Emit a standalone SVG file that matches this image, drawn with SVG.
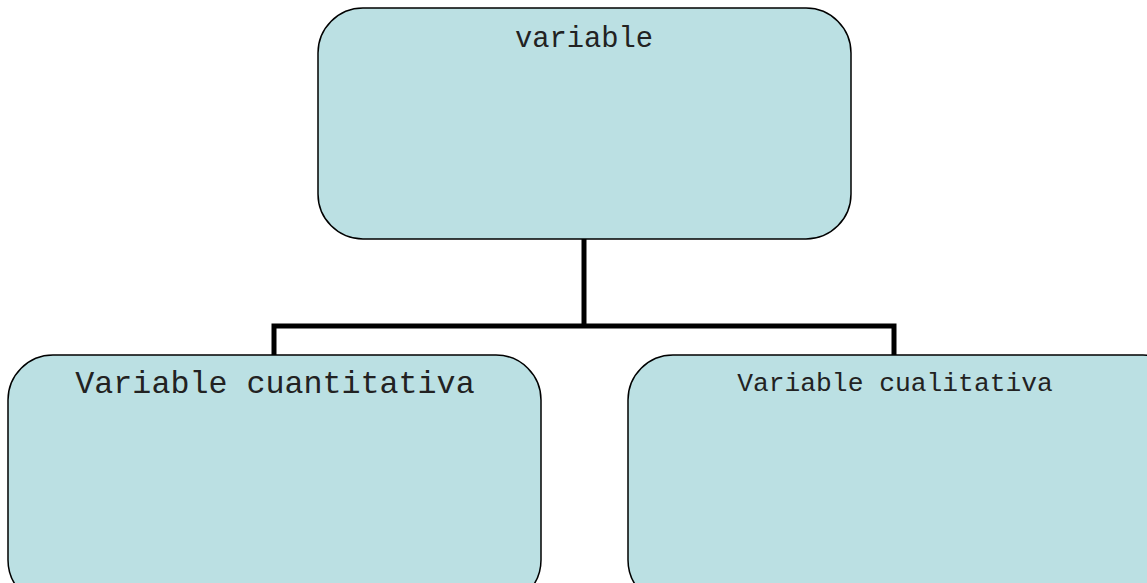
<svg xmlns="http://www.w3.org/2000/svg" width="1147" height="583" viewBox="0 0 1147 583">
  <style>
    .box { fill: #bbe0e3; stroke: #000; stroke-width: 1.5; }
    .lbl { font-family: "Courier New", "Nimbus Mono PS", "Liberation Mono", monospace; fill: #222; text-anchor: middle; }
    .wire { fill: none; stroke: #000; stroke-width: 5; stroke-linejoin: miter; }
  </style>
  <rect width="1147" height="583" fill="#fff"/>

  <!-- tree connectors -->
  <g id="connectors">
    <path class="wire" d="M584,239 V326"/>
    <path class="wire" d="M274,355 V326 H894 V355"/>
  </g>

  <g id="node-variable">
    <rect class="box" x="318" y="8" width="533" height="231" rx="45" ry="45"/>
    <text class="lbl" x="584" y="47" font-size="28.8">variable</text>
  </g>

  <g id="node-cuantitativa">
    <rect class="box" x="8" y="355" width="533" height="250" rx="45" ry="45"/>
    <text class="lbl" x="275" y="393" font-size="31.7">Variable cuantitativa</text>
  </g>

  <g id="node-cualitativa">
    <rect class="box" x="628" y="355" width="560" height="250" rx="45" ry="45"/>
    <text class="lbl" x="895" y="391" font-size="26.3">Variable cualitativa</text>
  </g>
</svg>
